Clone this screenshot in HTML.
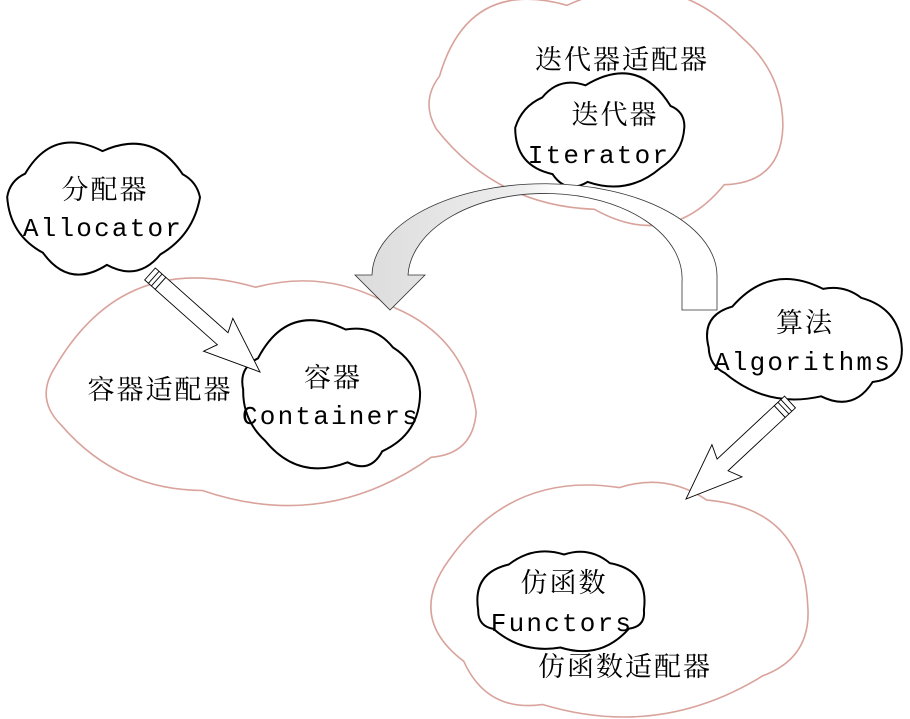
<!DOCTYPE html>
<html><head><meta charset="utf-8"><style>
html,body{margin:0;padding:0;background:#fff;width:910px;height:719px;overflow:hidden}
svg{display:block}
.cj{font-family:"Liberation Serif","Noto Serif CJK SC","Noto Sans CJK SC",serif;font-size:27px;fill:#000;letter-spacing:2px}
.mn{font-family:"Liberation Mono",monospace;font-size:26px;fill:#000;letter-spacing:2.2px}
</style></head><body>
<svg id="s" width="910" height="719" viewBox="0 0 910 719" xmlns="http://www.w3.org/2000/svg">
<defs>
<linearGradient id="g" x1="360" y1="0" x2="720" y2="0" gradientUnits="userSpaceOnUse">
<stop offset="0" stop-color="#dcdcdc"/><stop offset="0.45" stop-color="#eeeeee"/><stop offset="0.55" stop-color="#fff"/><stop offset="1" stop-color="#fff"/>
</linearGradient>
</defs>
<g id="pink"></g>
<g id="black"></g>
<path d="M372,275 A172,92 0 0 1 717,277 L717,310 L682,310 L682,282 A137,85 0 0 0 408,275 L425,275 L390,310 L355,275 Z" fill="url(#g)" stroke="#333" stroke-width="0.8"/>
<g id="arrows"></g>
<text class="cj" x="622" y="69" text-anchor="middle">迭代器适配器</text>
<text class="cj" x="615" y="124" text-anchor="middle">迭代器</text>
<text class="mn" x="599" y="163" text-anchor="middle">Iterator</text>
<text class="cj" x="105" y="199" text-anchor="middle">分配器</text>
<text class="mn" x="103" y="236" text-anchor="middle">Allocator</text>
<text class="cj" x="160" y="399" text-anchor="middle">容器适配器</text>
<text class="cj" x="333" y="387" text-anchor="middle">容器</text>
<text class="mn" x="331" y="424" text-anchor="middle">Containers</text>
<text class="cj" x="805" y="332" text-anchor="middle">算法</text>
<text class="mn" x="803" y="370" text-anchor="middle">Algorithms</text>
<text class="cj" x="625" y="676" text-anchor="middle">仿函数适配器</text>
<text class="cj" x="564" y="592" text-anchor="middle">仿函数</text>
<text class="mn" x="562" y="631" text-anchor="middle">Functors</text>
</svg>
<script>
function cloud(x0,y0,x1,y1,n,bulge,seed,kk){
  var cx=(x0+x1)/2,cy=(y0+y1)/2,rx=(x1-x0)/2,ry=(y1-y0)/2;
  var k=1/(1+bulge*kk);
  var ax=rx*k,ay=ry*k;
  var pts=[];
  for(var i=0;i<n;i++){
    var t=(i+0.25*Math.sin(i*2.3+seed))/n*Math.PI*2;
    pts.push([cx+ax*Math.cos(t),cy+ay*Math.sin(t)]);
  }
  var d="M"+pts[0][0].toFixed(1)+","+pts[0][1].toFixed(1);
  for(var i=0;i<n;i++){
    var a=pts[i],b=pts[(i+1)%n];
    var mx=(a[0]+b[0])/2,my=(a[1]+b[1])/2;
    var dx=mx-cx,dy=my-cy;
    var nx=dx/ax/ax,ny=dy/ay/ay,l=Math.hypot(nx,ny);nx/=l;ny/=l;
    var len=Math.hypot(b[0]-a[0],b[1]-a[1]);
    var h=len*bulge*(0.8+0.3*Math.sin(i*1.7+seed));
    d+=" Q"+(mx+nx*h).toFixed(1)+","+(my+ny*h).toFixed(1)+" "+b[0].toFixed(1)+","+b[1].toFixed(1);
  }
  return d+"Z";
}
var NS="http://www.w3.org/2000/svg";
function add(g,d,st,sw,fill){var p=document.createElementNS(NS,"path");p.setAttribute("d",d);p.setAttribute("stroke",st);p.setAttribute("stroke-width",sw);p.setAttribute("fill",fill);document.getElementById(g).appendChild(p);}
var pk="#d9a39c";
add("pink",cloud(428,0,790,212,7,0.45,1,0.05),pk,1.6,"#fff");
add("pink",cloud(45,285,485,497,7,0.4,2,0.05),pk,1.6,"#fff");
add("pink",cloud(432,485,812,718,7,0.45,3,0.05),pk,1.6,"#fff");
add("black",cloud(510,82,690,185,8,0.45,4,0.12),"#000",2,"#fff");
add("black",cloud(0,148,207,268,8,0.45,5,0.12),"#000",2,"#fff");
add("black",cloud(238,325,425,467,8,0.45,6,0.12),"#000",2,"#fff");
add("black",cloud(703,285,908,400,8,0.45,7,0.12),"#000",2,"#fff");
add("black",cloud(472,552,650,650,8,0.45,8,0.12),"#000",2,"#fff");
function arrow(x0,y0,x1,y1){
  var L=Math.hypot(x1-x0,y1-y0),ang=Math.atan2(y1-y0,x1-x0)*180/Math.PI;
  var g=document.createElementNS(NS,"g");
  g.setAttribute("transform","translate("+x0+","+y0+") rotate("+ang+")");
  var hb=L-50;
  g.innerHTML='<polygon points="14,-8 '+hb+',-8 '+(hb-6)+',-22 '+L+',0 '+(hb-6)+',22 '+hb+',8 14,8" fill="#fff" stroke="#000" stroke-width="0.9"/>'+
   '<rect x="0" y="-8" width="14" height="16" fill="#fff" stroke="#000" stroke-width="0.9"/>'+
   '<line x1="5" y1="-8" x2="5" y2="8" stroke="#000" stroke-width="0.9"/><line x1="9" y1="-8" x2="9" y2="8" stroke="#000" stroke-width="0.9"/>';
  document.getElementById("arrows").appendChild(g);
}
arrow(150,274,260,372);
arrow(790,402,686,499);
</script>
</body></html>
